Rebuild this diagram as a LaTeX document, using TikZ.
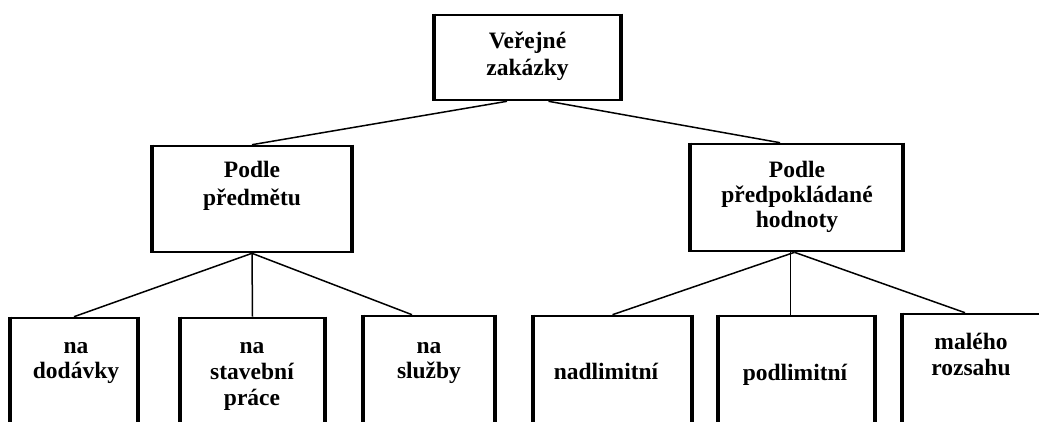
\documentclass[tikz,border=0pt]{standalone}
\usepackage{fontspec}
\setmainfont{Liberation Serif}
\usetikzlibrary{calc}
\tikzset{
  box/.style={draw=black, line width=2.6pt, inner sep=0pt, fill=white},
  side/.style={line width=4.2pt, draw=black},
  lbl/.style={inner sep=0pt, align=center, anchor=base,
    font=\bfseries\fontsize{23.5}{#1}\selectfont},
  lbl/.default=26,
  conn/.style={draw=black, line width=1.5pt}
}
\begin{document}
\begin{tikzpicture}[x=1pt,y=-1pt]
\useasboundingbox (0,0) rectangle (1039,421);
\clip (0,0) rectangle (1039,421);
\node[box, minimum width=185pt, minimum height=85pt] (top) at (527.5,57.5) {};
\node[box, minimum width=198pt, minimum height=106pt] (pl) at (252,199) {};
\node[box, minimum width=211pt, minimum height=107pt] (pr) at (796.5,197.5) {};
\node[box, minimum width=126pt, minimum height=106pt] (b1) at (74,371) {};
\node[box, minimum width=143pt, minimum height=106pt] (b2) at (252.5,371) {};
\node[box, minimum width=130pt, minimum height=108pt] (b3) at (429,370) {};
\node[box, minimum width=157pt, minimum height=108pt] (b4) at (612.5,370) {};
\node[box, minimum width=155pt, minimum height=108pt] (b5) at (796.5,370) {};
\node[box, minimum width=146pt, minimum height=110pt] (b6) at (976,369) {};
\foreach \n in {top,pl,pr,b1,b2,b3,b4,b5,b6}{
  \draw[side] (\n.north west) -- (\n.south west);
  \draw[side] (\n.north east) -- (\n.south east);
}
% connector end points
\coordinate (topL) at ($(top.south)+(-20.5,0)$);
\coordinate (topR) at ($(top.south)+(21,0)$);
\coordinate (prIn) at ($(pr.north)+(-16.5,0)$);
\coordinate (prOut) at ($(pr.south)+(-2,0)$);
\coordinate (b3In) at ($(b3.north)+(-17,0)$);
\coordinate (b5In) at ($(b5.north)+(-6,0)$);
\coordinate (b6In) at ($(b6.north)+(-11,0)$);
\draw[conn] (topL) -- (pl.north);
\draw[conn] (topR) -- (prIn);
\draw[conn] (pl.south) -- (b1.north);
\draw[conn] (pl.south) -- (b2.north);
\draw[conn] (pl.south) -- (b3In);
\draw[conn] (prOut) -- (b4.north);
\draw[conn] (b5In |- pr.south) -- (b5In);
\draw[conn] (prOut) -- (b6In);
% texts (anchor base = baseline of last line)
\node[lbl=27] (ttop) at (527.5,75) {Veřejné\\zakázky};
\node[lbl=28] (tpl) at (252,205) {Podle\\předmětu};
\node[lbl=25] (tpr) at (797,227) {Podle\\předpokládané\\hodnoty};
\node[lbl=25] (tb1) at (76,378) {na\\dodávky};
\node[lbl=26] (tb2) at (252,405) {na\\stavební\\práce};
\node[lbl=25] (tb3) at (429,378) {na\\služby};
\node[lbl] (tb4) at (606,379) {nadlimitní};
\node[lbl] (tb5) at (795,380) {podlimitní};
\node[lbl=26] (tb6) at (971,375) {malého\\rozsahu};
\end{tikzpicture}
\end{document}
